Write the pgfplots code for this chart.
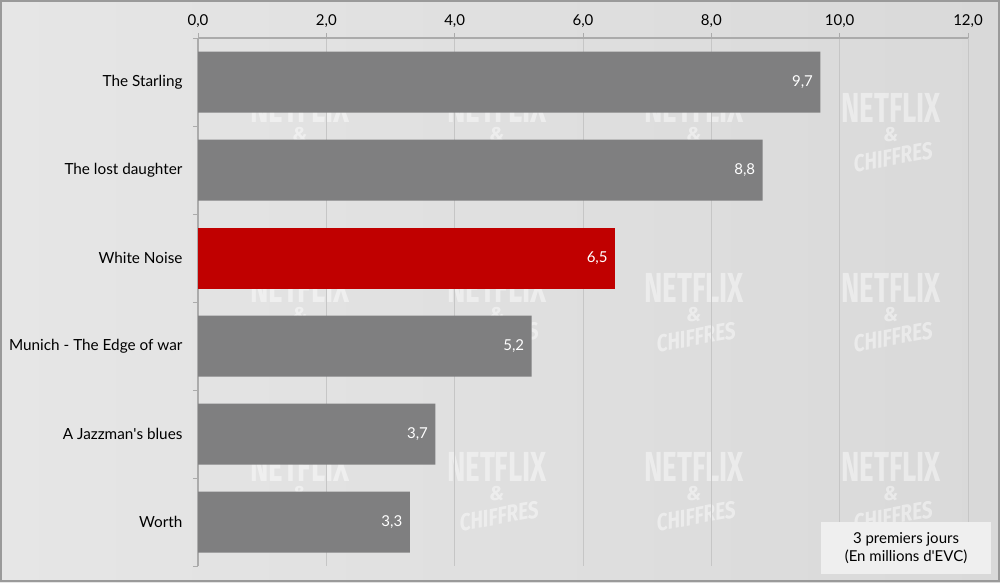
\documentclass[border=0pt]{standalone}
\usepackage{fontspec}
\setmainfont{Lato}
\newfontfamily\wmfont{Fira Sans}
\usepackage{pgfplots}
\pgfplotsset{compat=1.18}
\definecolor{barg}{HTML}{7F7F80}
\definecolor{barr}{HTML}{C00000}
\definecolor{axgray}{HTML}{ABABAB}
\definecolor{gridg}{HTML}{C6C6C6}
\definecolor{bgl}{HTML}{E6E6E6}
\definecolor{bgr}{HTML}{D9D9D9}
\definecolor{frameg}{HTML}{9A9A9A}
\definecolor{boxg}{HTML}{EFEFEF}
\begin{document}
\begin{tikzpicture}
\shade[left color=bgl, right color=bgr] (0pt,0pt) rectangle (1000pt,582pt);
% watermarks
\foreach \wx in {300,497,694,891}{
  \foreach \wy in {108,288,467}{
    \node[text=white, opacity=0.45, font=\wmfont\bfseries\fontsize{42}{42}\selectfont, xscale=0.66, inner sep=0pt] at (\wx pt, 582pt-\wy pt) {NETFLIX};
    \node[text=white, opacity=0.45, font=\wmfont\itshape\bfseries\fontsize{20}{20}\selectfont, inner sep=0pt] at (\wx pt, 582pt-\wy pt-27pt) {\&};
    \node[text=white, opacity=0.45, font=\wmfont\itshape\bfseries\fontsize{24}{24}\selectfont, xscale=0.8, rotate=8, inner sep=0pt] at (\wx pt+2pt, 582pt-\wy pt-49pt) {CHIFFRES};
  }
}
\begin{axis}[
  at={(198pt,544pt)}, anchor=north west,
  width=770pt, height=528pt, scale only axis,
  xmin=0, xmax=12, ymin=-0.5, ymax=5.5, y dir=reverse,
  axis x line=top, axis y line=left,
  axis line style={-, draw=axgray, line width=1.6pt},
  xtick={0,2,4,6,8,10,12},
  xticklabel style={font=\fontsize{15}{18}\selectfont, yshift=1.5pt, /pgf/number format/.cd, fixed, fixed zerofill, precision=1, use comma, assume math mode=true},
  xmajorgrids, grid style={draw=gridg, line width=0.8pt},
  tick align=outside, major tick length=5pt,
  x tick style={draw=axgray, line width=1pt},
  ytick={0,1,2,3,4,5},
  yticklabels={The Starling, The lost daughter, White Noise, Munich - The Edge of war, A Jazzman\textquotesingle s blues, Worth},
  yticklabel style={font=\fontsize{15.3}{18}\selectfont, text=black, xshift=-7pt},
  y tick style={draw=none},
  extra y ticks={-0.5,0.5,1.5,2.5,3.5,4.5,5.5},
  extra y tick labels={},
  extra y tick style={y tick style={draw=axgray, line width=1pt}, ymajorgrids=false},
  xbar, bar width=61pt, bar shift=0pt,
  point meta=x,
  nodes near coords={\pgfmathprintnumber[fixed, fixed zerofill, precision=1, use comma, assume math mode=true]{\pgfplotspointmeta}},
  every node near coord/.append style={anchor=east, text=white, font=\fontsize{15}{18}\selectfont, xshift=-4pt},
  clip=false,
]
\addplot[fill=barg, draw=none] coordinates {(9.7,0) (8.8,1) (5.2,3) (3.7,4) (3.3,5)};
\addplot[fill=barr, draw=none] coordinates {(6.5,2)};
\end{axis}
\fill[boxg] (821pt,8pt) rectangle (991pt,60pt);
\node[font=\fontsize{15}{18}\selectfont, align=center] at (906pt,34pt) {3 premiers jours\\(En millions d\textquotesingle EVC)};
\draw[frameg, line width=2pt] (1pt,1pt) rectangle (999pt,581pt);
\end{tikzpicture}
\end{document}
